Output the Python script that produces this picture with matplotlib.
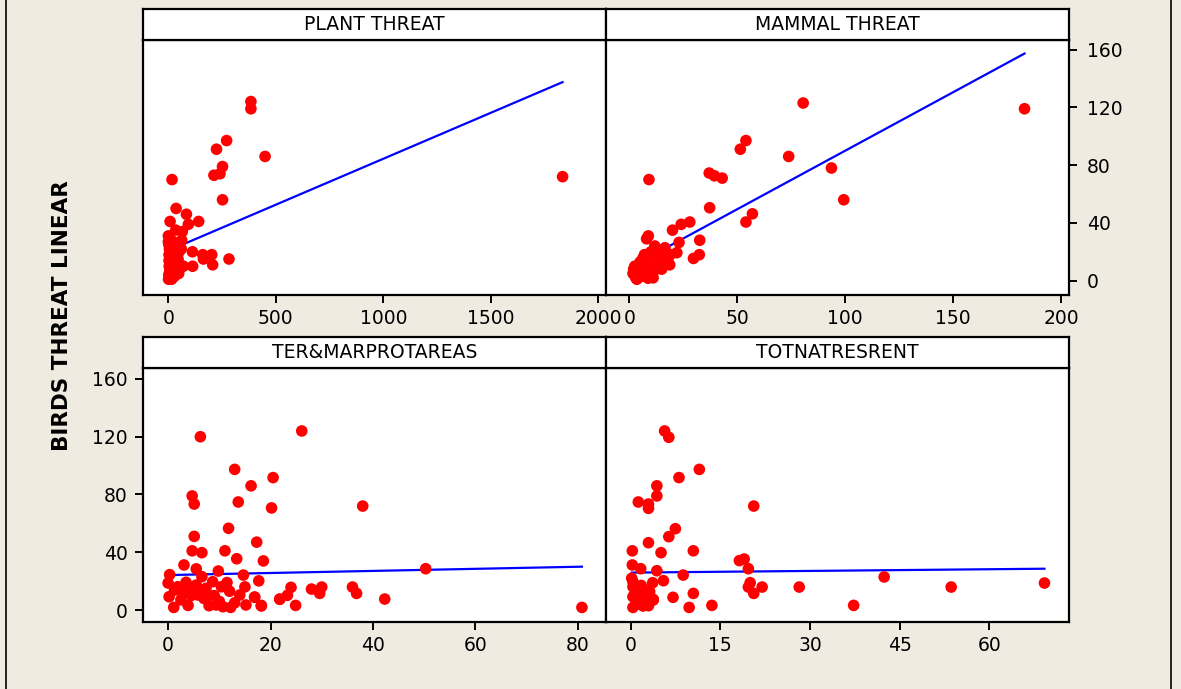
import matplotlib

matplotlib.use("Agg")
import matplotlib.pyplot as plt
from matplotlib.lines import Line2D

BG = "#EFEBE1"
RED = "#FF0000"
BLUE = "#0000FF"

# ---------- data ----------
plant_x = [384, 384, 271, 224, 450, 252, 240, 212, 17, 1834, 252, 36, 84, 8, 141, 93, 34, 65,
           0, 62, 0, 112, 160, 202, 163, 282, 206, 113, 70,
           2, 5, 10, 3, 15, 25, 8, 30, 4, 12, 20, 40, 6, 18, 2, 10, 28, 5, 15, 1,
           45, 50, 35, 22, 12, 55, 48, 38, 60, 3, 20, 8]
plant_y = [124, 119, 97, 91, 86, 79, 74, 73, 70, 72, 56, 50, 46, 41, 41, 39, 35, 34,
           31, 28, 27, 20, 18, 18, 15, 15, 11, 10, 10,
           25, 22, 20, 18, 16, 14, 13, 12, 10, 9, 8, 7, 6, 5, 4, 3, 3, 2, 1, 1,
           15, 20, 24, 27, 28, 11, 5, 18, 22, 14, 20, 8]

mammal_x = [80.5, 183, 54, 51.4, 73.8, 93.6, 37, 39.4, 43, 9.1, 99.3, 37.2, 57, 54, 28, 24, 20,
            32.6, 23, 8.8, 8, 32.4, 29.7, 22, 16.5, 11.8,
            2.5, 1.7, 5.6, 8.7, 11.8, 14.8, 18.7, 10.2, 6.3, 13.3, 17.9, 4, 7.9, 3, 6, 9,
            12, 15, 4.5, 10, 7, 14, 5, 2, 16, 11, 19, 3.5]
mammal_y = [123, 119, 97, 91, 86, 78, 74.5, 72.6, 71, 70, 56, 50.5, 46.3, 40.6, 40.6, 39, 35,
            28, 26.5, 31, 29, 18, 15.4, 19.4, 22.8, 24,
            10, 5, 3, 1.7, 7.4, 11, 11, 16.6, 15.5, 17.8, 13, 7.4, 9.7, 2, 12, 5,
            14, 8, 4, 20, 18, 20, 13, 8, 16, 2, 18, 1]

protarea_x = [26.1, 6.3, 13, 20.5, 16.2, 4.7, 5.1, 13.7, 20.2, 38, 11.8, 5.1, 17.3, 4.7, 6.6,
              11.1, 13.4, 18.6, 3.1, 5.5, 9.8, 50.3, 0.3, 14.7, 6.6, 17.7, 11.5, 0, 3.5, 8.7,
              15, 24, 28, 30, 29.6, 36, 36.8, 23.3, 21.8, 42.3, 16.9, 24.9, 18.2, 80.8, 12.2,
              3.9, 1.1, 0.2,
              1.25, 3.9, 5.8, 7.8, 14, 16.9, 21.8, 9.4, 10.7, 15.2, 18.2, 1.9, 5.5, 7.4,
              10.4, 2, 4, 6, 9, 10, 8, 13, 2.5, 4.5, 7, 12, 3]
protarea_y = [124, 120, 97.4, 91.7, 86, 79, 73.4, 74.8, 70.7, 72, 56.6, 51, 47, 41, 39.7,
              41, 35.5, 34, 31.2, 28.5, 27, 28.6, 24.5, 24.2, 23.1, 20.2, 19, 18.7, 19.2, 19.6,
              16, 15.7, 14.5, 15.9, 11.5, 15.9, 11.5, 10.2, 7.6, 7.6, 9, 3.2, 3.2, 1.8, 1.8,
              3.2, 1.8, 9.2,
              13.9, 12.7, 10.4, 10.4, 10.4, 8.8, 7.4, 3.5, 2.3, 3.5, 2.8, 16.1, 17.3, 15,
              16.1, 14, 16, 12, 10, 6, 3, 5, 7, 10, 8, 13, 12]

rent_x = [5.7, 6.4, 11.5, 8.1, 4.4, 4.4, 1.3, 3, 3, 20.6, 7.5, 6.4, 3, 0.3, 5.1, 10.5, 18.2,
          19, 0.3, 1.7, 4.4, 19.7, 8.8, 42.4, 5.5, 3.7, 20, 19.7, 22, 28.2, 53.6, 69.2,
          20.6, 10.5, 7.1, 13.6, 9.8, 37.3, 3.8,
          0.4, 0.4, 1.3, 2.4, 3.2, 3.8, 0.4, 1.6, 2.7, 0.4, 2.1, 0.2, 1, 2.5, 1.8, 0.8, 3, 1.2]
rent_y = [124, 119.6, 97.4, 91.7, 86, 79, 74.8, 73.4, 70.4, 72, 56.3, 50.8, 46.6, 41, 39.7, 41,
          34.2, 35.3, 31.2, 28.6, 27.2, 28.6, 24.2, 22.9, 20.3, 18.9, 18.9, 15.9, 15.9, 15.9,
          15.9, 18.7, 11.5, 11.5, 8.8, 3.2, 1.8, 3.2, 7.4,
          19.6, 16.1, 13.9, 13.9, 12.7, 6.9, 9.2, 6.9, 6.9, 1.8, 2.8, 22, 4, 10, 17, 12, 3, 8.5]

titles = ["PLANT THREAT", "MAMMAL THREAT", "TER&MARPROTAREAS", "TOTNATRESRENT"]
xs = [plant_x, mammal_x, protarea_x, rent_x]
ys = [plant_y, mammal_y, protarea_y, rent_y]
# fitted line (intercept, slope)
fits = [(20.8, 0.0636), (9.0, 0.81), (24.2, 0.072), (25.9, 0.039)]
xticks = [[0, 500, 1000, 1500, 2000], [0, 50, 100, 150, 200],
          [0, 20, 40, 60, 80], [0, 15, 30, 45, 60]]
xlims = [(-118, 2036), (-10.8, 203.6), (-4.9, 85.5), (-4.1, 73.3)]
ylims = [(-9.9, 166.6), (-9.9, 166.6), (-8.3, 167.6), (-8.3, 167.6)]
yticks = [0, 40, 80, 120, 160]

# ---------- layout (figure fractions) ----------
W, H = 1181, 689
cols = [143 / W, 606 / W]
cw = 463 / W
rows = [(1 - 295 / H, 255 / H, 1 - 40 / H), (1 - 622 / H, 254 / H, 1 - 368 / H)]
sh = 31 / H

fig = plt.figure(figsize=(W / 100, H / 100), dpi=100, facecolor=BG)
fig.add_artist(Line2D([6 / W, 6 / W], [0, 1], color="black", lw=1.2))
fig.add_artist(Line2D([1171 / W, 1171 / W], [0, 1], color="black", lw=1.2))

for i in range(4):
    r, c = divmod(i, 2)
    pb, ph, sb = rows[r]
    ax = fig.add_axes([cols[c], pb, cw, ph])
    ax.set_facecolor("white")
    b0, b1 = fits[i]
    x0, x1 = min(xs[i]), max(xs[i])
    ax.plot([x0, x1], [b0 + b1 * x0, b0 + b1 * x1], color=BLUE, lw=1.6, zorder=2)
    ax.scatter(xs[i], ys[i], s=70, color=RED, edgecolors="none", zorder=3)
    ax.set_xlim(*xlims[i])
    ax.set_ylim(*ylims[i])
    ax.set_xticks(xticks[i])
    ax.set_yticks(yticks)
    for sp in ax.spines.values():
        sp.set_linewidth(1.6)
    ax.tick_params(direction="out", length=6, width=1.4, labelsize=13.5, pad=4)
    if i == 1:
        ax.yaxis.tick_right()
        ax.tick_params(axis="y", pad=7)
    elif i == 2:
        ax.tick_params(axis="y", pad=5)
    else:
        ax.tick_params(axis="y", left=False, right=False, labelleft=False, labelright=False)

    st = fig.add_axes([cols[c], sb, cw, sh])
    st.set_facecolor("white")
    st.set_xticks([])
    st.set_yticks([])
    for sp in st.spines.values():
        sp.set_linewidth(1.6)
    st.text(0.5, 0.5, titles[i], ha="center", va="center", fontsize=13.5,
            transform=st.transAxes)

fig.text(62 / W, 1 - 316 / H, "BIRDS THREAT LINEAR", rotation=90, ha="center", va="center",
         fontsize=15.5, fontweight="bold", family="DejaVu Sans")

fig.savefig("out.png", dpi=100, facecolor=BG)
